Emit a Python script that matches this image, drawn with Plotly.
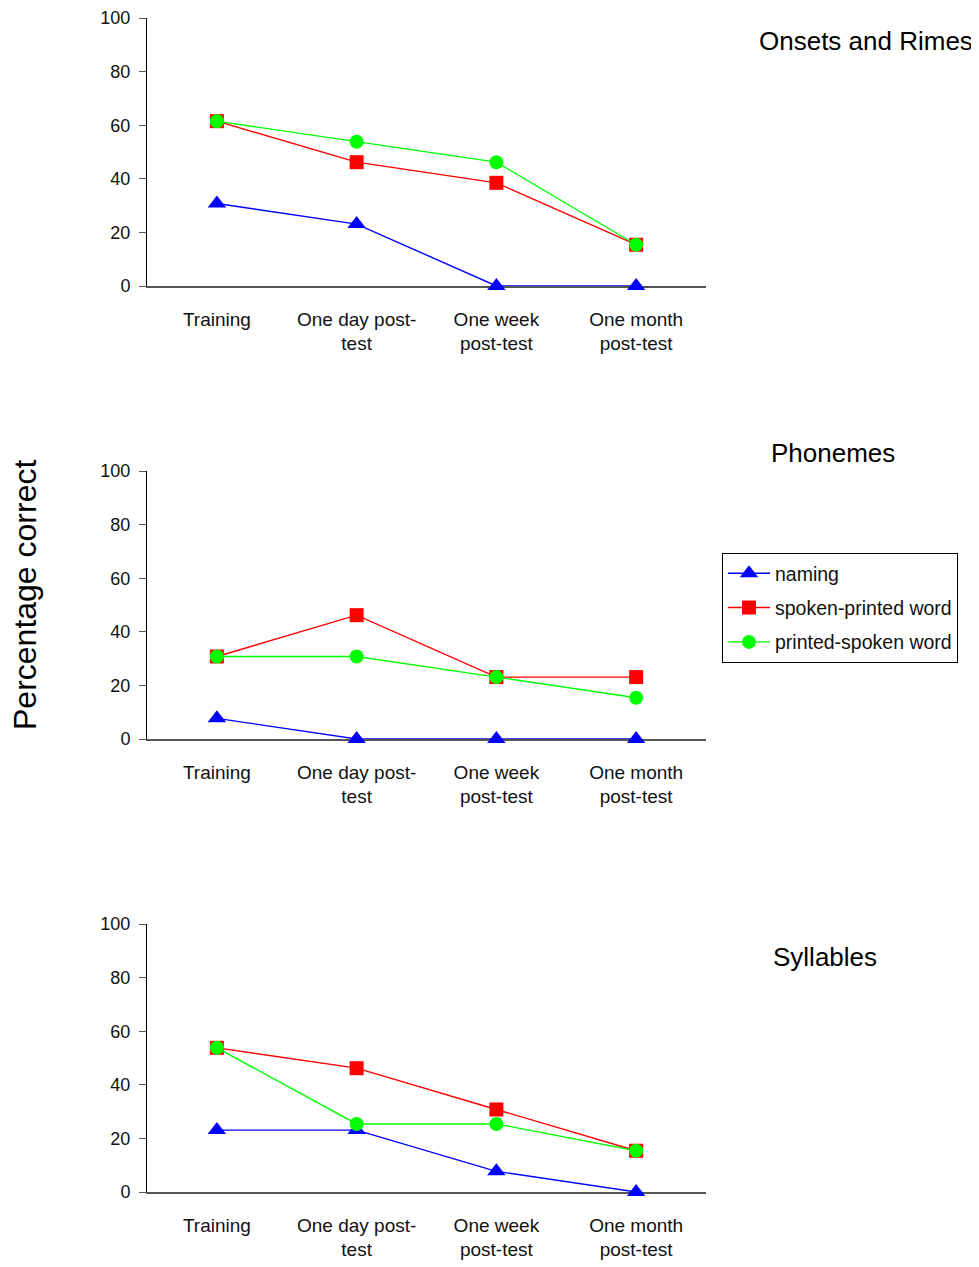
import plotly.graph_objects as go

categories = ["Training", "One day post-<br>test", "One week<br>post-test", "One month<br>post-test"]
series_names = ["naming", "spoken-printed word", "printed-spoken word"]
panel_titles = ["Onsets and Rimes", "Phonemes", "Syllables"]

onsets_naming = [30.8, 23.1, 0, 0]
onsets_spoken_printed = [61.5, 46.2, 38.5, 15.4]
onsets_printed_spoken = [61.5, 53.8, 46.2, 15.4]

phonemes_naming = [7.7, 0, 0, 0]
phonemes_spoken_printed = [30.8, 46.2, 23.1, 23.1]
phonemes_printed_spoken = [30.8, 30.8, 23.1, 15.4]

syllables_naming = [23.1, 23.1, 7.7, 0]
syllables_spoken_printed = [53.8, 46.2, 30.8, 15.4]
syllables_printed_spoken = [53.8, 25.4, 25.4, 15.4]

panels = [
    [onsets_naming, onsets_spoken_printed, onsets_printed_spoken],
    [phonemes_naming, phonemes_spoken_printed, phonemes_printed_spoken],
    [syllables_naming, syllables_spoken_printed, syllables_printed_spoken],
]

# page body has an 8px margin: work in figure pixel coordinates
OFF = 8
W, H = 979 - OFF, 1267 - OFF
colors = ["#0000FF", "#FF0000", "#00FF00"]
symbols = ["triangle-up", "square", "circle"]
msizes = [16, 14, 14]
FONT = "Liberation Sans Narrow, Arial Narrow, Liberation Sans, Arial, sans-serif"
SANS = "Liberation Sans, Arial, sans-serif"

panel_px = [(18, 286), (471, 739), (924, 1192)]
x_px = (147, 706)


def fx(px):
    return (px - OFF) / W


def fy(py):
    return 1 - (py - OFF) / H


fig = go.Figure()
layout = dict(
    width=W, height=H, margin=dict(l=0, r=0, t=0, b=0),
    paper_bgcolor="white", plot_bgcolor="white",
    showlegend=True,
    legend=dict(
        x=fx(722), y=fy(553), xanchor="left", yanchor="top",
        bordercolor="black", borderwidth=1, bgcolor="white",
        font=dict(family=FONT, size=19.5, color="#111"),
        tracegroupgap=6, itemwidth=42,
    ),
)

for p, vals in enumerate(panels):
    xa = "x" if p == 0 else f"x{p+1}"
    ya = "y" if p == 0 else f"y{p+1}"
    for s in range(3):
        fig.add_trace(go.Scatter(
            x=categories, y=vals[s], name=series_names[s],
            mode="lines+markers", xaxis=xa, yaxis=ya,
            line=dict(color=colors[s], width=1.4),
            marker=dict(symbol=symbols[s], size=msizes[s], color=colors[s]),
            cliponaxis=False, legendgroup=series_names[s],
            showlegend=(p == 1),
        ))
    top, bot = panel_px[p]
    sx = "" if p == 0 else str(p + 1)
    layout["xaxis" + sx] = dict(
        domain=[fx(x_px[0]), fx(x_px[1])], anchor=ya,
        type="category", range=[-0.5, 3.5],
        showline=True, linecolor="#555", linewidth=1.5,
        ticks="", showgrid=False, zeroline=False,
        tickfont=dict(family=FONT, size=19, color="#111"),
        ticklabelstandoff=15,
        layer="below traces", automargin=False,
    )
    layout["yaxis" + sx] = dict(
        domain=[fy(bot), fy(top)], anchor=xa,
        range=[0, 100], tick0=0, dtick=20,
        showline=True, linecolor="black", linewidth=1,
        ticks="outside", ticklen=7, tickcolor="#555",
        showgrid=False, zeroline=False,
        tickfont=dict(family=FONT, size=18, color="#111"),
        ticklabelstandoff=5,
        layer="below traces", automargin=False,
    )

annotations = [
    dict(text=panel_titles[0], x=fx(975), y=fy(41), xanchor="right", yanchor="middle"),
    dict(text=panel_titles[1], x=fx(833), y=fy(453), xanchor="center", yanchor="middle"),
    dict(text=panel_titles[2], x=fx(825), y=fy(957), xanchor="center", yanchor="middle"),
]
for a in annotations:
    a.update(xref="paper", yref="paper", showarrow=False,
             font=dict(family=SANS, size=26, color="black"))
annotations.append(dict(
    text="Percentage correct", x=fx(25), y=fy(595), xref="paper", yref="paper",
    showarrow=False, textangle=-90, xanchor="center", yanchor="middle",
    font=dict(family=SANS, size=32, color="black"),
))
layout["annotations"] = annotations

fig.update_layout(**layout)
fig.write_html("out.html")
